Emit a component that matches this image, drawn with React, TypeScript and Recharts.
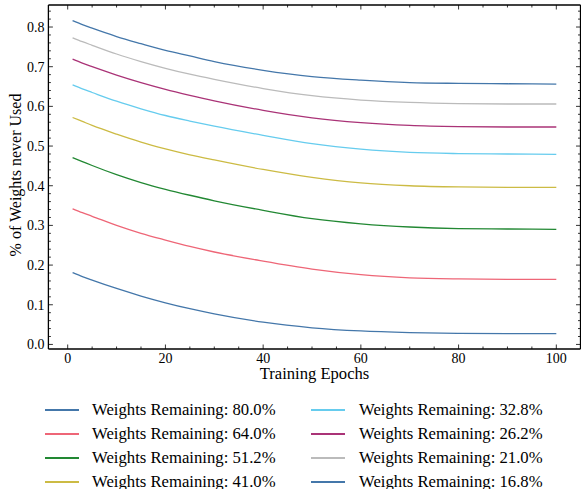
import React from 'react';
import { LineChart, Line, XAxis, YAxis } from 'recharts';

const epochs = [1, 3, 5, 10, 15, 20, 25, 30, 40, 50, 60, 70, 80, 90, 100];

const s800 = [0.181, 0.171, 0.162, 0.141, 0.122, 0.105, 0.090, 0.077, 0.056, 0.042, 0.034, 0.030, 0.028, 0.027, 0.027];
const s640 = [0.342, 0.332, 0.323, 0.300, 0.280, 0.263, 0.247, 0.233, 0.210, 0.190, 0.176, 0.168, 0.165, 0.164, 0.164];
const s512 = [0.471, 0.461, 0.451, 0.428, 0.408, 0.391, 0.376, 0.362, 0.338, 0.317, 0.304, 0.296, 0.292, 0.291, 0.290];
const s410 = [0.572, 0.562, 0.552, 0.530, 0.510, 0.493, 0.478, 0.465, 0.441, 0.421, 0.407, 0.400, 0.397, 0.396, 0.396];
const s328 = [0.654, 0.644, 0.635, 0.613, 0.594, 0.577, 0.563, 0.550, 0.527, 0.506, 0.492, 0.484, 0.481, 0.480, 0.479];
const s262 = [0.719, 0.709, 0.700, 0.679, 0.660, 0.643, 0.628, 0.614, 0.590, 0.571, 0.559, 0.552, 0.549, 0.548, 0.548];
const s210 = [0.773, 0.763, 0.754, 0.732, 0.713, 0.696, 0.681, 0.668, 0.645, 0.627, 0.616, 0.610, 0.607, 0.606, 0.606];
const s168 = [0.816, 0.806, 0.797, 0.776, 0.758, 0.741, 0.727, 0.713, 0.691, 0.675, 0.666, 0.660, 0.658, 0.657, 0.656];

const seriesNames = [
  'Weights Remaining: 80.0%',
  'Weights Remaining: 64.0%',
  'Weights Remaining: 51.2%',
  'Weights Remaining: 41.0%',
  'Weights Remaining: 32.8%',
  'Weights Remaining: 26.2%',
  'Weights Remaining: 21.0%',
  'Weights Remaining: 16.8%',
];
const seriesValues = [s800, s640, s512, s410, s328, s262, s210, s168];
const seriesColors = ['#4477AA', '#EE6677', '#228833', '#CCBB44', '#66CCEE', '#AA3377', '#BBBBBB', '#4477AA'];

const xTicks = [0, 5, 10, 15, 20, 25, 30, 35, 40, 45, 50, 55, 60, 65, 70, 75, 80, 85, 90, 95, 100];
const xMajor = [0, 20, 40, 60, 80, 100];
const yTicks = [0, 0.02, 0.04, 0.06, 0.08, 0.1, 0.12, 0.14, 0.16, 0.18, 0.2, 0.22, 0.24, 0.26, 0.28, 0.3,
  0.32, 0.34, 0.36, 0.38, 0.4, 0.42, 0.44, 0.46, 0.48, 0.5, 0.52, 0.54, 0.56, 0.58, 0.6, 0.62, 0.64, 0.66,
  0.68, 0.7, 0.72, 0.74, 0.76, 0.78, 0.8, 0.82, 0.84];
const yMajor = [0, 0.1, 0.2, 0.3, 0.4, 0.5, 0.6, 0.7, 0.8];

const xDomain = [-3.95, 104.95];
const yDomain = [-0.0115, 0.8555];

const data = epochs.map((e, i) => {
  const row: any = { epoch: e };
  seriesValues.forEach((s, k) => {
    row['s' + k] = s[i];
  });
  return row;
});

const FONT = '"Liberation Serif", "DejaVu Serif", serif';
const MAJOR = 4.5;
const MINOR = 2.5;

const isMajorX = (v: number) => xMajor.some((m) => Math.abs(m - v) < 1e-6);
const isMajorY = (v: number) => yMajor.some((m) => Math.abs(m - v) < 1e-6);

const BottomTick = (props: any) => {
  const { x, y, payload } = props;
  const major = isMajorX(payload.value);
  return (
    <g>
      <line x1={x} x2={x} y1={y} y2={y - (major ? MAJOR : MINOR)} stroke="#000" strokeWidth={0.8} />
      {major && (
        <text x={x} y={y + 13.5} textAnchor="middle" fontFamily={FONT} fontSize={14} fill="#000">
          {payload.value}
        </text>
      )}
    </g>
  );
};

const TopTick = (props: any) => {
  const { x, y, payload } = props;
  const major = isMajorX(payload.value);
  return <line x1={x} x2={x} y1={y} y2={y + (major ? MAJOR : MINOR)} stroke="#000" strokeWidth={0.8} />;
};

const LeftTick = (props: any) => {
  const { x, y, payload } = props;
  const major = isMajorY(payload.value);
  return (
    <g>
      <line x1={x} x2={x + (major ? MAJOR : MINOR)} y1={y} y2={y} stroke="#000" strokeWidth={0.8} />
      {major && (
        <text x={x - 4} y={y + 5} textAnchor="end" fontFamily={FONT} fontSize={14} fill="#000">
          {Number(payload.value).toFixed(1)}
        </text>
      )}
    </g>
  );
};

const RightTick = (props: any) => {
  const { x, y, payload } = props;
  const major = isMajorY(payload.value);
  return <line x1={x} x2={x - (major ? MAJOR : MINOR)} y1={y} y2={y} stroke="#000" strokeWidth={0.8} />;
};

const legendRows = [410, 434, 458, 482];

export default function App() {
  return (
    <div style={{ position: 'absolute', left: 0, top: 0, width: 581, height: 489, overflow: 'hidden', background: '#fff' }}>
      <LineChart width={581} height={489} data={data} margin={{ top: 0, right: 0, bottom: 110, left: 0 }}>
        <XAxis
          dataKey="epoch"
          type="number"
          domain={xDomain}
          allowDataOverflow
          ticks={xTicks}
          interval={0}
          tickLine={false}
          tickSize={0}
          tickMargin={0}
          height={30}
          tick={<BottomTick />}
          axisLine={{ stroke: '#000', strokeWidth: 1.3 }}
          label={{
            content: () => (
              <text x={314.5} y={378.5} textAnchor="middle" fontFamily={FONT} fontSize={16.6} fill="#000">
                Training Epochs
              </text>
            ),
          }}
        />
        <XAxis
          xAxisId="top"
          orientation="top"
          dataKey="epoch"
          type="number"
          domain={xDomain}
          allowDataOverflow
          ticks={xTicks}
          interval={0}
          tickLine={false}
          tickSize={0}
          tickMargin={0}
          height={5}
          tick={<TopTick />}
          axisLine={{ stroke: '#000', strokeWidth: 1.3 }}
        />
        <YAxis
          type="number"
          domain={yDomain}
          allowDataOverflow
          ticks={yTicks}
          interval={0}
          tickLine={false}
          tickSize={0}
          tickMargin={0}
          width={48.4}
          tick={<LeftTick />}
          axisLine={{ stroke: '#000', strokeWidth: 1.3 }}
          label={{
            content: () => (
              <text
                x={21}
                y={175}
                textAnchor="middle"
                fontFamily={FONT}
                fontSize={16}
                fill="#000"
                transform="rotate(-90, 21, 175)"
              >
                % of Weights never Used
              </text>
            ),
          }}
        />
        <YAxis
          yAxisId="right"
          orientation="right"
          type="number"
          domain={yDomain}
          allowDataOverflow
          ticks={yTicks}
          interval={0}
          tickLine={false}
          tickSize={0}
          tickMargin={0}
          width={0.5}
          tick={<RightTick />}
          axisLine={{ stroke: '#000', strokeWidth: 1.3 }}
        />
        {seriesNames.map((name, k) => (
          <Line
            key={name}
            dataKey={'s' + k}
            name={name}
            type="monotone"
            stroke={seriesColors[k]}
            strokeWidth={1.3}
            dot={false}
            activeDot={false}
            isAnimationActive={false}
          />
        ))}
      </LineChart>
      {seriesNames.map((name, k) => {
        const col = k < 4 ? 0 : 1;
        const row = k % 4;
        const lineLeft = col === 0 ? 45 : 311;
        const textLeft = col === 0 ? 92 : 359;
        const cy = legendRows[row];
        return (
          <React.Fragment key={name}>
            <div
              style={{
                position: 'absolute',
                left: lineLeft,
                top: cy - 0.75,
                width: 34,
                height: 1.5,
                background: seriesColors[k],
              }}
            />
            <div
              style={{
                position: 'absolute',
                left: textLeft,
                top: cy - 11,
                height: 22,
                lineHeight: '22px',
                fontFamily: FONT,
                fontSize: 16.7,
                color: '#000',
                whiteSpace: 'nowrap',
              }}
            >
              {name}
            </div>
          </React.Fragment>
        );
      })}
    </div>
  );
}
